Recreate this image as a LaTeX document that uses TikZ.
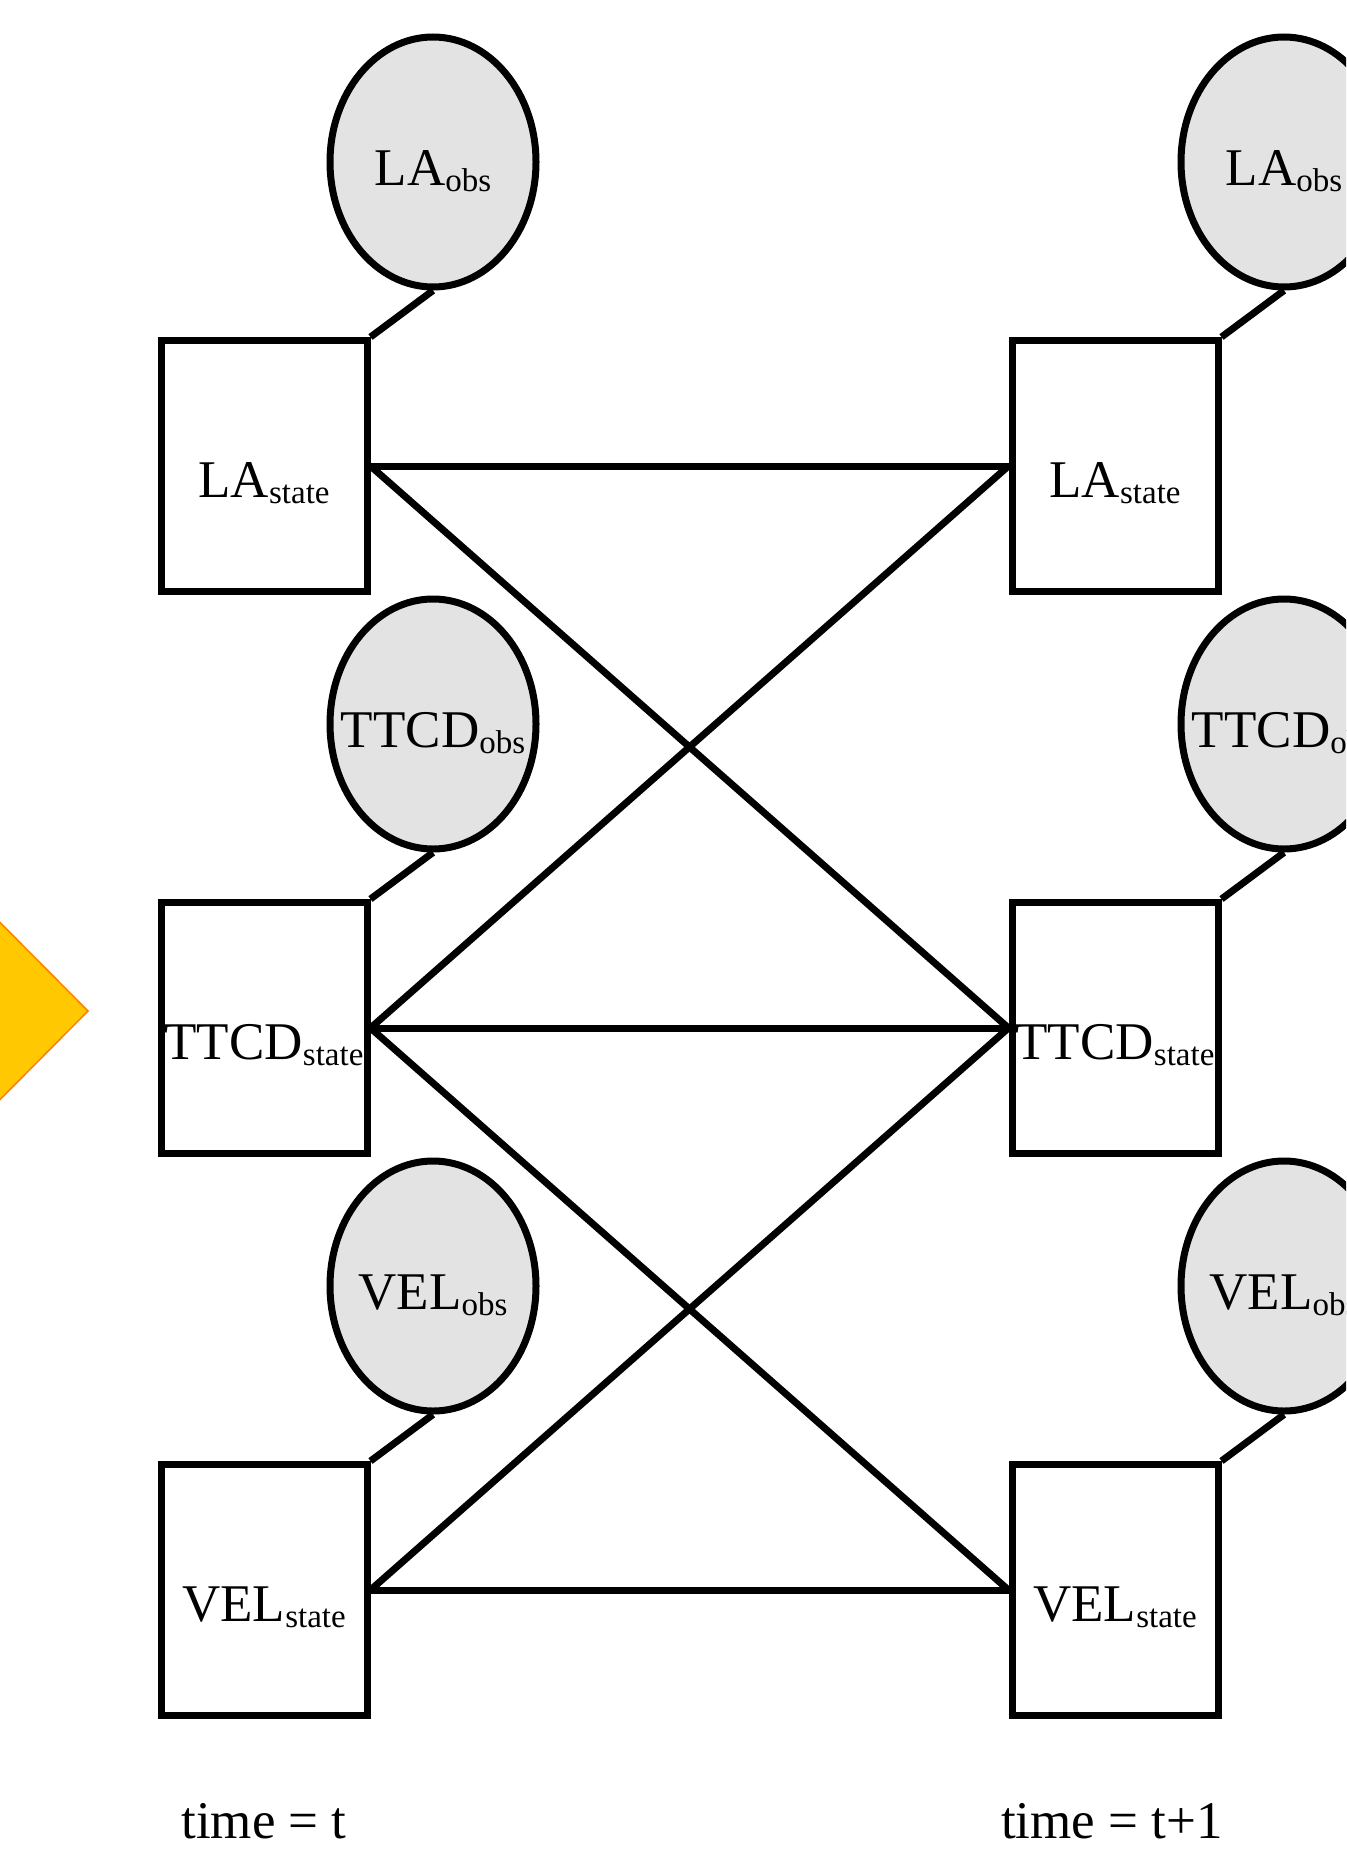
\documentclass[tikz,border=0pt]{standalone}
\usepackage{fontspec}
\setmainfont{Liberation Serif}
\usetikzlibrary{shapes.geometric}
\definecolor{obsgray}{RGB}{227,227,227}
\definecolor{arrowfill}{RGB}{255,200,0}
\definecolor{arrowedge}{RGB}{255,128,0}
\newcommand{\subtxt}[1]{\raisebox{-6pt}{\fontsize{33}{36}\selectfont #1}}
\begin{document}
\begin{tikzpicture}[x=1pt,y=-1pt,
  stbox/.style={draw, line width=7pt, fill=white, minimum width=206pt, minimum height=251pt, inner sep=0pt},
  obsnode/.style={ellipse, draw, line width=7pt, fill=obsgray, minimum width=206pt, minimum height=250pt, inner sep=0pt},
  lbl/.style={font=\fontsize{53}{60}\selectfont, inner sep=0pt, anchor=base},
  link/.style={line width=7pt}]
\useasboundingbox (0,0) rectangle (1346,1857);
\clip (0,0) rectangle (1346,1857);
\fill[white] (0,0) rectangle (1346,1857);
% yellow pointer, cut at the left edge
\filldraw[fill=arrowfill, draw=arrowedge, line width=1.5pt] (-60,862) -- (88,1011) -- (-60,1160) -- cycle;
% left column (time t)
\node[obsnode] (o1) at (433,162) {};
\node[obsnode] (o2) at (433,724) {};
\node[obsnode] (o3) at (433,1286) {};
\node[stbox] (s1) at (264,466) {};
\node[stbox] (s2) at (264,1028) {};
\node[stbox] (s3) at (264,1590) {};
% right column (time t+1)
\node[obsnode] (p1) at (1284,162) {};
\node[obsnode] (p2) at (1284,724) {};
\node[obsnode] (p3) at (1284,1286) {};
\node[stbox] (r1) at (1115,466) {};
\node[stbox] (r2) at (1115,1028) {};
\node[stbox] (r3) at (1115,1590) {};
% labels
\node[lbl] (o1t) at ([yshift=-23pt]o1.center) {LA\subtxt{obs}};
\node[lbl] (o2t) at ([yshift=-23pt]o2.center) {TTCD\subtxt{obs}};
\node[lbl] (o3t) at ([yshift=-23pt]o3.center) {VEL\subtxt{obs}};
\node[lbl] (p1t) at ([yshift=-23pt]p1.center) {LA\subtxt{obs}};
\node[lbl] (p2t) at ([yshift=-23pt]p2.center) {TTCD\subtxt{obs}};
\node[lbl] (p3t) at ([yshift=-23pt]p3.center) {VEL\subtxt{obs}};
\node[lbl] (s1t) at ([yshift=-31pt]s1.center) {LA\subtxt{state}};
\node[lbl] (s2t) at ([yshift=-31pt]s2.center) {TTCD\subtxt{state}};
\node[lbl] (s3t) at ([yshift=-31pt]s3.center) {VEL\subtxt{state}};
\node[lbl] (r1t) at ([yshift=-31pt]r1.center) {LA\subtxt{state}};
\node[lbl] (r2t) at ([yshift=-31pt]r2.center) {TTCD\subtxt{state}};
\node[lbl] (r3t) at ([yshift=-31pt]r3.center) {VEL\subtxt{state}};
% observation links
\draw[link] (o1.south) -- (s1.north east);
\draw[link] (o2.south) -- (s2.north east);
\draw[link] (o3.south) -- (s3.north east);
\draw[link] (p1.south) -- (r1.north east);
\draw[link] (p2.south) -- (r2.north east);
\draw[link] (p3.south) -- (r3.north east);
% temporal links
\draw[link] (s1.east) -- (r1.west);
\draw[link] (s1.east) -- (r2.west);
\draw[link] (s2.east) -- (r1.west);
\draw[link] (s2.east) -- (r2.west);
\draw[link] (s2.east) -- (r3.west);
\draw[link] (s3.east) -- (r2.west);
\draw[link] (s3.east) -- (r3.west);
% time labels
\coordinate (tl) at (264,1838);
\coordinate (tr) at (1112,1838);
\node[lbl] (tlt) at (tl) {time = t};
\node[lbl] (trt) at (tr) {time = t+1};
\end{tikzpicture}
\end{document}
